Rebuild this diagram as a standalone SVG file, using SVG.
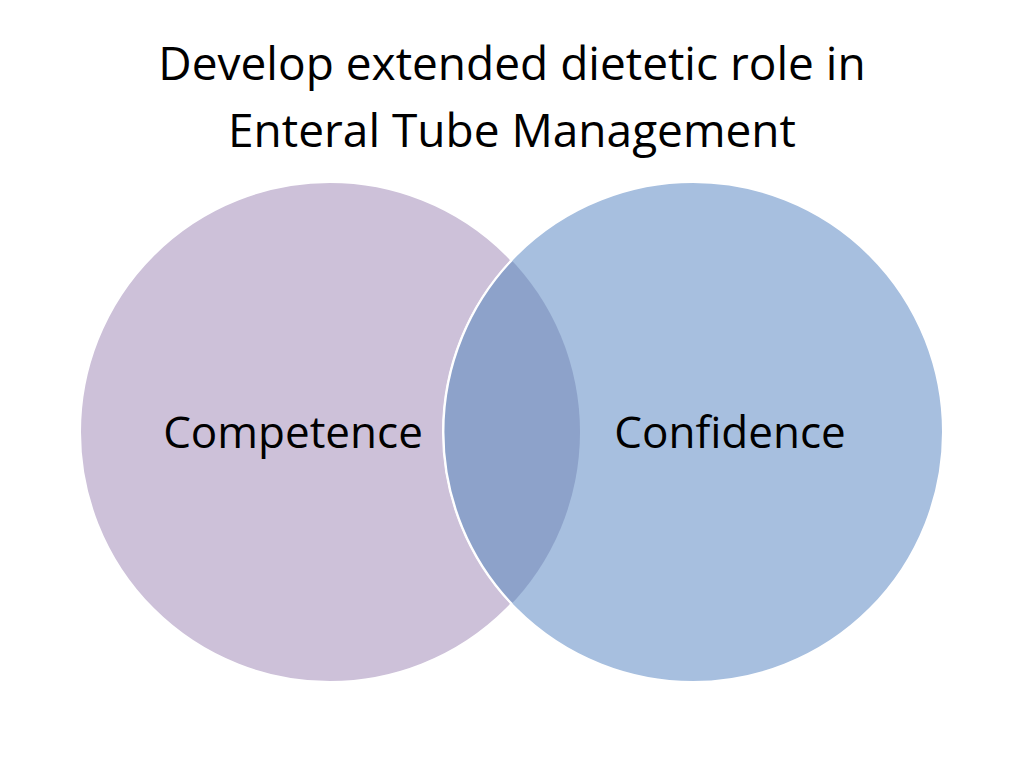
<svg xmlns="http://www.w3.org/2000/svg" width="1024" height="768" viewBox="0 0 1024 768">
<style>
.t{font-family:"Open Sans","Liberation Sans",sans-serif;fill:#000;text-anchor:middle}
</style>
<defs><clipPath id="cl"><circle cx="330" cy="432" r="250"/></clipPath></defs>
<rect width="1024" height="768" fill="#fff"/>
<text class="t" x="512" y="80" font-size="46">Develop extended dietetic role in</text>
<text class="t" x="512" y="147" font-size="46">Enteral Tube Management</text>
<g id="competence"><circle cx="330" cy="432" r="250" fill="#CDC1D9" stroke="#fff" stroke-width="2"/></g>
<g id="confidence"><circle cx="693" cy="432" r="250" fill="#A7BFDF" stroke="#fff" stroke-width="2"/></g>
<g id="overlap"><circle cx="693" cy="432" r="250" fill="#8DA2CA" clip-path="url(#cl)"/>
<path d="M512 260 A250 250 0 0 0 512 604" fill="none" stroke="#fff" stroke-width="2"/></g>
<text class="t" x="293" y="448" font-size="44">Competence</text>
<text class="t" x="730" y="448" font-size="44">Confidence</text>
</svg>
